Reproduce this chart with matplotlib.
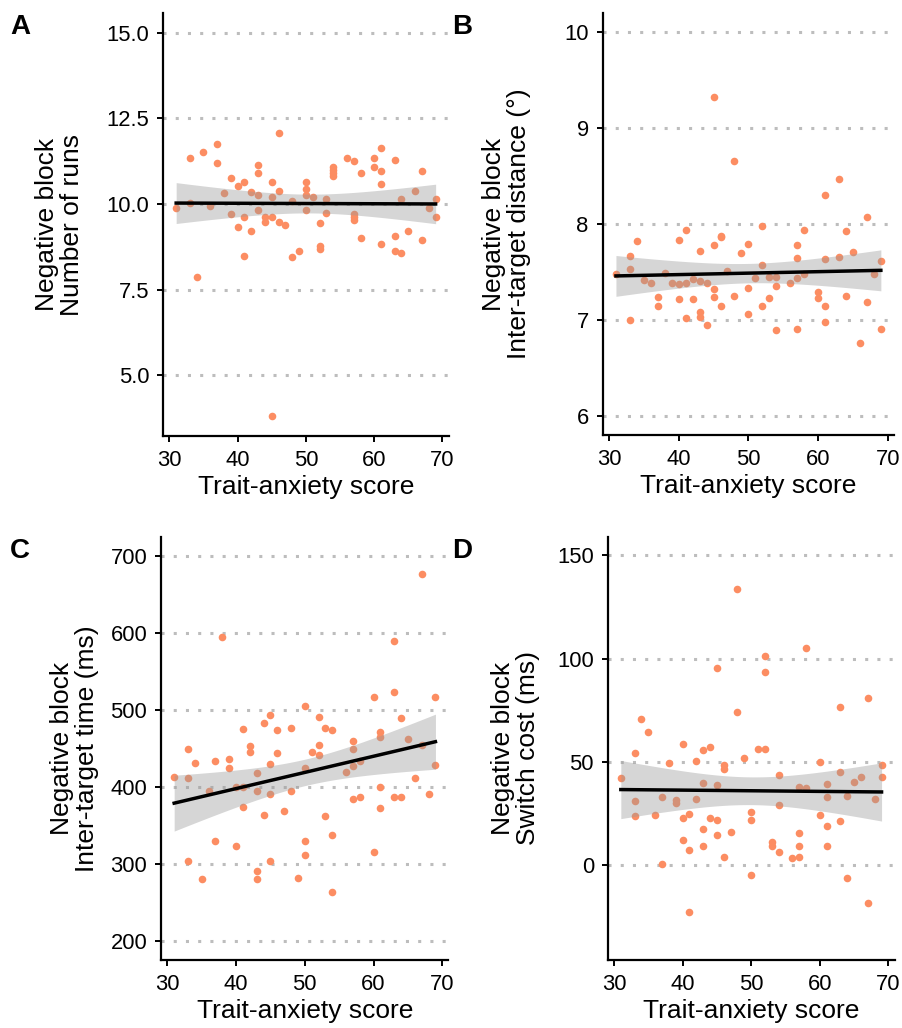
import numpy as np
import matplotlib
matplotlib.use("Agg")
import matplotlib.pyplot as plt

plt.rcParams['font.family'] = ['Liberation Sans', 'DejaVu Sans']

# Panel A: number of runs
xA = [31, 33, 33, 34, 35, 36, 37, 37, 38, 39, 39, 40, 40, 41, 41, 41, 42, 42,
      43, 43, 43, 43, 44, 44, 45, 45, 45, 45, 46, 46, 46, 47, 48, 48, 49,
      50, 50, 50, 50, 51, 52, 52, 52, 53, 53, 54, 54, 54, 54, 56, 57, 57, 57, 57,
      58, 58, 60, 60, 61, 61, 61, 61, 63, 63, 63, 64, 64, 65, 66, 67, 67, 68, 69, 69]
yA = [9.87, 11.33, 10.04, 7.86, 11.52, 9.94, 11.74, 11.20, 10.33, 10.76, 9.70, 10.52, 9.32,
      10.64, 9.63, 8.47, 10.34, 9.21, 11.14, 10.89, 10.26, 9.83, 9.61, 9.48, 10.64, 10.19,
      9.63, 3.81, 12.08, 10.39, 9.48, 9.40, 10.10, 8.44, 8.62, 10.64, 10.45, 10.25, 9.83,
      10.19, 9.45, 8.76, 8.69, 10.14, 9.74, 11.09, 10.99, 10.90, 10.81, 11.35, 11.26, 9.71,
      9.61, 9.52, 10.89, 9.01, 11.33, 11.08, 11.64, 10.95, 10.57, 8.82, 11.27, 9.07, 8.62,
      10.14, 8.57, 9.21, 10.39, 10.95, 8.94, 9.87, 10.14, 9.63]

# Panel B: inter-target distance
xB = [31, 33, 33, 33, 34, 35, 36, 37, 37, 38, 39, 40, 40, 40, 41, 41, 41, 42, 42,
      43, 43, 43, 43, 44, 44, 45, 45, 45, 45, 46, 46, 46, 47, 48, 48, 49, 50, 50, 50,
      51, 52, 52, 52, 53, 53, 54, 54, 54, 56, 57, 57, 57, 57, 58, 58, 60, 60,
      61, 61, 61, 61, 63, 63, 64, 64, 65, 66, 67, 67, 68, 69, 69]
yB = [7.48, 7.67, 7.53, 7.00, 7.82, 7.42, 7.39, 7.24, 7.14, 7.49, 7.39, 7.83, 7.37, 7.22,
      7.94, 7.38, 7.02, 7.43, 7.22, 7.72, 7.41, 7.08, 7.03, 7.38, 6.95, 9.32, 7.78, 7.32,
      7.24, 7.88, 7.86, 7.14, 7.51, 8.66, 7.25, 7.70, 7.79, 7.33, 7.06, 7.44, 7.98, 7.57,
      7.15, 7.45, 7.23, 7.45, 7.35, 6.89, 7.39, 7.78, 7.65, 7.44, 6.91, 7.94, 7.48, 7.29,
      7.23, 8.30, 7.63, 7.15, 6.98, 8.47, 7.66, 7.93, 7.25, 7.71, 6.76, 8.07, 7.19, 7.48,
      7.61, 6.91]

# Panel C: inter-target time
xC = [31, 33, 33, 33, 34, 35, 36, 37, 37, 38, 39, 39, 40, 40, 41, 41, 41, 42, 42,
      43, 43, 43, 43, 44, 44, 45, 45, 45, 45, 46, 46, 47, 48, 48, 49, 50, 50, 50, 50,
      51, 52, 52, 52, 53, 53, 54, 54, 54, 56, 57, 57, 57, 57, 58, 58, 60, 60,
      61, 61, 61, 61, 63, 63, 63, 64, 64, 65, 66, 67, 67, 68, 69, 69]
yC = [413, 449, 412, 303, 431, 280, 394, 433, 330, 595, 436, 425, 400, 323, 475, 400, 374,
      453, 445, 418, 395, 290, 280, 483, 363, 493, 430, 391, 303, 474, 444, 369, 477, 395,
      282, 505, 425, 330, 311, 445, 491, 455, 442, 476, 362, 474, 338, 264, 419, 460, 449,
      427, 384, 433, 387, 517, 315, 471, 465, 400, 373, 589, 523, 387, 490, 387, 462, 411,
      677, 455, 391, 517, 429]

# Panel D: switch cost
xD = [31, 33, 33, 33, 34, 35, 36, 37, 37, 38, 39, 39, 40, 40, 40, 41, 41, 41, 42, 42,
      43, 43, 43, 43, 44, 44, 45, 45, 45, 45, 46, 46, 46, 47, 48, 48, 49, 50, 50, 50,
      51, 52, 52, 52, 53, 53, 54, 54, 54, 56, 57, 57, 57, 57, 58, 58, 60, 60,
      61, 61, 61, 61, 63, 63, 63, 64, 64, 65, 66, 67, 67, 68, 69, 69]
yD = [42.3, 54.3, 31.2, 23.7, 70.8, 64.5, 24.4, 33.0, 0.3, 49.4, 31.5, 29.9, 58.8, 22.6,
      12.3, 24.7, 7.1, -22.8, 50.2, 32.1, 55.6, 39.7, 17.3, 9.4, 57.2, 22.6, 95.2, 38.6,
      21.6, 14.5, 48.6, 46.7, 4.0, 16.2, 133.8, 74.0, 51.9, 25.5, 21.6, -4.7, 56.1, 101.0,
      93.7, 56.1, 11.1, 9.4, 43.6, 28.9, 6.5, 3.2, 37.8, 15.3, 9.4, 3.7, 105.2, 37.2, 49.8,
      24.2, 39.1, 33.0, 19.1, 9.4, 76.7, 44.9, 21.5, 33.6, -6.3, 40.2, 42.8, 80.9, -18.3,
      31.8, 48.5, 42.5]

panels = [
    ("A", xA, yA, "Negative block\nNumber of runs", [5.0, 7.5, 10.0, 12.5, 15.0], "%.1f",
     (3.24, 15.56), [163.2 / 903, 1 - 435.7 / 1028, 285.4 / 903, 422.4 / 1028], -0.277),
    ("B", xB, yB, "Negative block\nInter-target distance (°)", [6, 7, 8, 9, 10], "%d",
     (5.8, 10.2), [602.7 / 903, 1 - 435 / 1028, 291.4 / 903, 422 / 1028], -0.246),
    ("C", xC, yC, "Negative block\nInter-target time (ms)", [200, 300, 400, 500, 600, 700], "%d",
     (175, 725), [161.1 / 903, 1 - 960 / 1028, 287.4 / 903, 423.3 / 1028], -0.216),
    ("D", xD, yD, "Negative block\nSwitch cost (ms)", [0, 50, 100, 150], "%d",
     (-46, 159), [607.8 / 903, 1 - 960 / 1028, 286.8 / 903, 423.3 / 1028], -0.236),
]

orange = '#FC8D62'
t_crit = 1.996  # 95% t quantile, df ~ 70


def fit_band(x, y, n=80):
    x = np.asarray(x, float)
    y = np.asarray(y, float)
    slope, icpt = np.polyfit(x, y, 1)
    xs = np.linspace(x.min(), x.max(), n)
    fit = icpt + slope * xs
    resid = y - (icpt + slope * x)
    s2 = np.sum(resid ** 2) / (len(x) - 2)
    se = np.sqrt(s2 * (1 / len(x) + (xs - x.mean()) ** 2 / np.sum((x - x.mean()) ** 2)))
    return xs, fit, fit - t_crit * se, fit + t_crit * se


fig = plt.figure(figsize=(9.03, 10.28), dpi=100)

for letter, x, y, ylab, yticks, fmt, ylim, rect, labx in panels:
    ax = fig.add_axes(rect)
    for t in yticks:
        ax.axhline(t, color='#BDBDBD', lw=2.2, dashes=(1.0, 3.0), zorder=1)
    ax.scatter(x, y, s=30, color=orange, linewidths=0, zorder=2)
    xs, fit, lo, hi = fit_band(x, y)
    ax.fill_between(xs, lo, hi, color='#999999', alpha=0.4, lw=0, zorder=3)
    ax.plot(xs, fit, color='black', lw=2.5, zorder=4)

    ax.set_xlim(29.1, 70.9)
    ax.set_ylim(*ylim)
    ax.set_xticks([30, 40, 50, 60, 70])
    ax.set_yticks(yticks)
    ax.set_yticklabels([fmt % t for t in yticks])
    ax.spines['top'].set_visible(False)
    ax.spines['right'].set_visible(False)
    for s in ['left', 'bottom']:
        ax.spines[s].set_linewidth(1.6)
    ax.tick_params(length=4, width=1.4, pad=6, labelsize=15.8, colors='black')
    ax.set_xlabel("Trait-anxiety score", fontsize=19, labelpad=3)
    ax.set_ylabel(ylab, fontsize=19, linespacing=1.05)
    ax.yaxis.set_label_coords(labx, 0.5)

    # panel letter
    lx = 10 if letter in "AC" else 452
    ly = 14 if letter in "AB" else 538
    fig.text(lx / 903, 1 - ly / 1028, letter, fontsize=20, fontweight='bold',
             ha='left', va='top')

fig.savefig("out.png", dpi=100)
